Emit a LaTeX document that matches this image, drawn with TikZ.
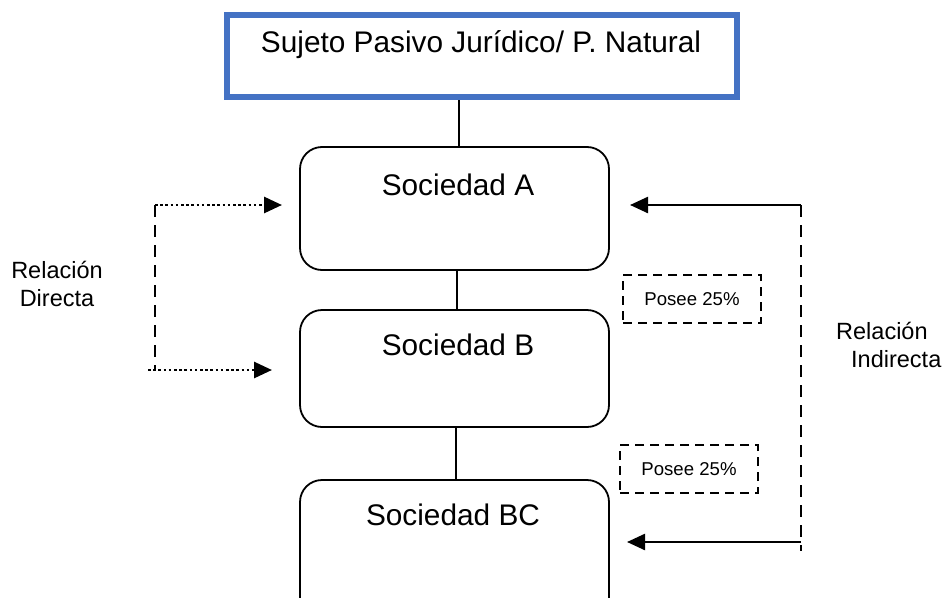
\documentclass[tikz,border=0pt]{standalone}
\usepackage{fontspec}
\setmainfont{Liberation Sans}
\usetikzlibrary{arrows.meta}
\definecolor{frameblue}{HTML}{4472C4}
\begin{document}
\begin{tikzpicture}[x=1pt,y=-1pt,
  bigtxt/.style={font=\fontsize{29.8}{34}\selectfont, inner sep=0pt},
  midtxt/.style={font=\fontsize{23.5}{28}\selectfont, inner sep=0pt, align=center},
  smalltxt/.style={font=\fontsize{18.6}{21}\selectfont, inner sep=0pt},
  sbox/.style={draw, line width=1.8pt, rounded corners=22pt, minimum width=309pt, inner sep=0pt},
  possbox/.style={draw, dash pattern=on 9pt off 6pt, line width=2.6pt, minimum width=138pt, minimum height=48pt, inner sep=0pt},
  link/.style={line width=1.6pt},
  dotarrow/.style={line width=2.8pt, dash pattern=on 2.6pt off 2.6pt, -{Triangle[length=18pt,width=16pt]}},
  solarrow/.style={line width=2.4pt, -{Triangle[length=18pt,width=16pt]}},
  vdash/.style={line width=2.6pt, dash pattern=on 12pt off 8pt}
]
\useasboundingbox (0,0) rectangle (950,597);
\clip (0,0) rectangle (950,597);

% top box
\node[draw=frameblue, line width=6pt, minimum width=510pt, minimum height=82pt, inner sep=0pt] (top) at (482,56) {};
\node[bigtxt] (toptxt) at (481,45) {Sujeto Pasivo Jurídico/ P. Natural};

% Sociedad boxes
\node[sbox, minimum height=123pt] (A) at (454.5,208.5) {};
\node[bigtxt] (Atxt) at (458,185) {Sociedad A};
\node[sbox, minimum height=117pt] (B) at (454.5,368.5) {};
\node[bigtxt] (Btxt) at (458,345) {Sociedad B};
\node[sbox, minimum height=150pt] (BC) at (454.5,555) {};
\node[bigtxt] (BCtxt) at (453,515) {Sociedad BC};

% vertical links
\draw[link] (459,100) -- (459,147);
\draw[link] (457,270) -- (457,310);
\draw[link] (456,427) -- (456,480);

% Posee boxes
\node[possbox] (p1) at (692,299) {};
\node[smalltxt] (p1t) at (692,299) {Posee 25\%};
\node[possbox] (p2) at (689,469) {};
\node[smalltxt] (p2t) at (689,469) {Posee 25\%};

% left relation
\coordinate (l1) at (155,205);
\coordinate (l1e) at (282,205);
\coordinate (l2) at (155,370);
\coordinate (l2s) at (148,370);
\coordinate (l2e) at (272,370);
\draw[vdash] (l1) -- (l2);
\draw[dotarrow] (l1) -- (l1e);
\draw[dotarrow] (l2s) -- (l2e);
\node[midtxt] (rd) at (57,284) {Relación\\Directa};

% right relation
\coordinate (r1) at (801,205);
\coordinate (r1e) at (630,205);
\coordinate (r2) at (801,542);
\coordinate (r2e) at (627,542);
\coordinate (r3) at (801,551);
\draw[vdash] (r1) -- (r3);
\draw[solarrow] (r1) -- (r1e);
\draw[solarrow] (r2) -- (r2e);
\node[midtxt, align=left, anchor=west] (ri) at (836,345) {Relación\\\hspace*{15pt}Indirecta};
\end{tikzpicture}
\end{document}
